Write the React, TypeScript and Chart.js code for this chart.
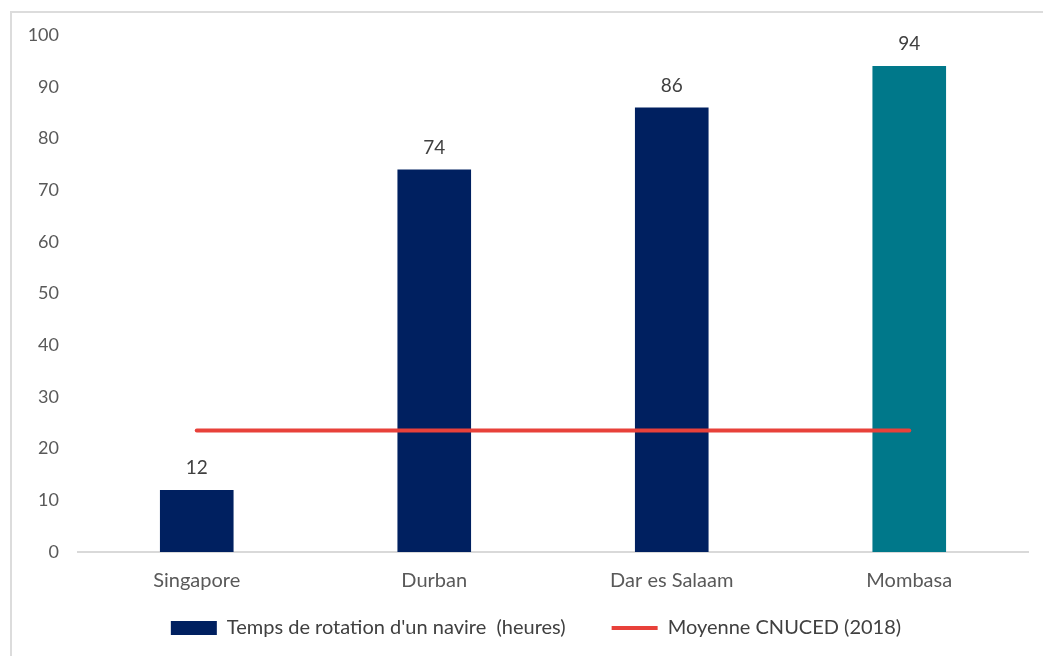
import React, { useEffect, useRef } from "react";
import { Chart, registerables } from "chart.js";

Chart.register(...registerables);

// Port names on the category axis
const ports = ["Singapore", "Durban", "Dar es Salaam", "Mombasa"];
// Vessel turnaround time, hours
const turnaroundHours = [12, 74, 86, 94];
// UNCTAD 2018 average, repeated across every port
const unctadAverage = [23.5, 23.5, 23.5, 23.5];
// Y-axis range
const yMin = 0;
const yMax = 100;
const yStep = 10;

const barLabel = "Temps de rotation d'un navire  (heures)";
const lineLabel = "Moyenne CNUCED (2018)";

const NAVY = "#002060";
const TEAL = "#00788a";
const RED = "#e8413a";
const FONT = "Lato, 'Liberation Sans', sans-serif";

// Writes each bar's value just above it
const valueLabels = {
  id: "valueLabels",
  afterDatasetsDraw(chart: any) {
    const meta = chart.getDatasetMeta(0);
    const ctx = chart.ctx;
    ctx.save();
    ctx.font = `19px ${FONT}`;
    ctx.fillStyle = "#404040";
    ctx.textAlign = "center";
    ctx.textBaseline = "middle";
    meta.data.forEach((bar: any, i: number) => {
      ctx.fillText(String(turnaroundHours[i]), bar.x, bar.y - 22);
    });
    ctx.restore();
  },
};

// The wide label padding spaces the two legend items apart; this pulls the
// row back up under the axis and nudges it right
const legendShift = {
  id: "legendShift",
  afterLayout(chart: any) {
    const lg = chart.legend;
    if (lg) {
      lg.left += 16;
      lg.right += 16;
      lg.top -= 36;
      lg.bottom -= 36;
    }
  },
};

export default function App() {
  const ref = useRef<HTMLCanvasElement>(null);

  useEffect(() => {
    if (!ref.current) return;
    const chart = new Chart(ref.current, {
      type: "bar",
      data: {
        labels: ports,
        datasets: [
          {
            type: "bar",
            label: barLabel,
            data: turnaroundHours,
            backgroundColor: [NAVY, NAVY, NAVY, TEAL],
            borderWidth: 0,
            barPercentage: 0.31,
            categoryPercentage: 1,
            pointStyle: "rect",
            order: 1,
          } as any,
          {
            type: "line",
            label: lineLabel,
            data: unctadAverage,
            borderColor: RED,
            backgroundColor: RED,
            borderWidth: 4,
            borderCapStyle: "round",
            pointRadius: 0,
            pointStyle: "line",
            fill: false,
            order: 0,
          } as any,
        ],
      },
      options: {
        animation: false,
        responsive: false,
        maintainAspectRatio: false,
        layout: { padding: { left: 0, right: 15, top: 22, bottom: -28 } },
        scales: {
          x: {
            grid: { display: false, drawTicks: false },
            border: { display: true, color: "#d9d9d9", width: 2 },
            ticks: {
              color: "#595959",
              font: { family: FONT, size: 20 },
              padding: 17,
              maxRotation: 0,
            },
            afterFit(scale: any) {
              scale.height = 56;
            },
          },
          y: {
            min: yMin,
            max: yMax,
            grid: { display: false, drawTicks: false },
            border: { display: false },
            ticks: {
              stepSize: yStep,
              color: "#595959",
              font: { family: FONT, size: 18 },
              padding: 19,
            },
            afterFit(scale: any) {
              scale.width = 66;
              scale.paddingTop = 10;
              scale.paddingBottom = 10;
            },
          },
        },
        plugins: {
          tooltip: { enabled: false },
          legend: {
            position: "bottom",
            labels: {
              usePointStyle: true,
              pointStyleWidth: 46,
              boxHeight: 14,
              color: "#404040",
              font: { family: FONT, size: 20 },
              padding: 46,
              sort: (a: any, b: any) => a.datasetIndex - b.datasetIndex,
            },
          },
        },
      },
      plugins: [valueLabels, legendShift],
    });
    return () => chart.destroy();
  }, []);

  return (
    <div
      style={{
        position: "fixed",
        left: 0,
        top: 0,
        width: 1043,
        height: 656,
        background: "#ffffff",
        overflow: "hidden",
      }}
    >
      <div
        style={{
          position: "absolute",
          left: 10,
          top: 11,
          right: 0,
          bottom: 0,
          borderTop: "2px solid #dcdcdc",
          borderLeft: "2px solid #dcdcdc",
        }}
      />
      <canvas
        ref={ref}
        width={1031}
        height={643}
        style={{ position: "absolute", left: 12, top: 13, width: 1031, height: 643 }}
      />
    </div>
  );
}
